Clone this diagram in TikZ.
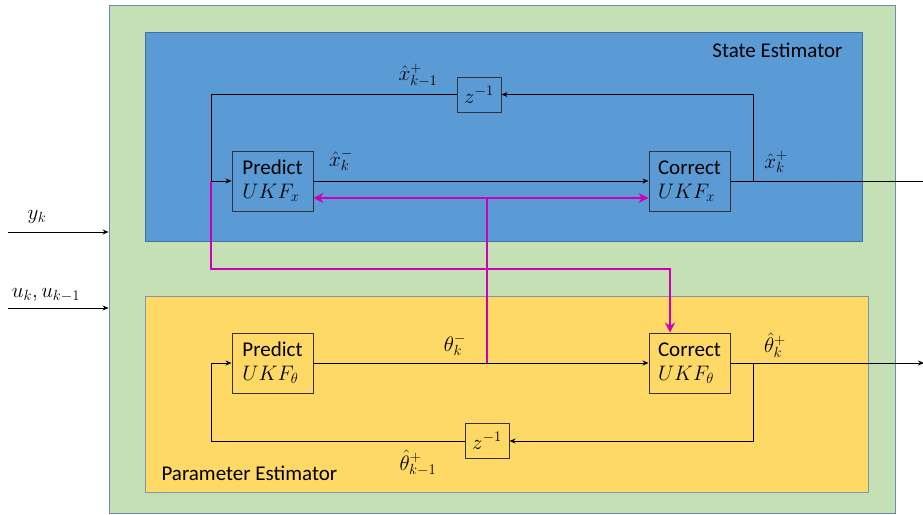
\documentclass[tikz,border=0pt]{standalone}
\usepackage{fix-cm}
\usepackage{fontspec}
\setmainfont{Carlito}
\usetikzlibrary{arrows.meta}

\definecolor{framegreen}{HTML}{C5E0B4}
\definecolor{frameline}{HTML}{6A8CAF}
\definecolor{stateblue}{HTML}{5B9BD5}
\definecolor{stateline}{HTML}{41719C}
\definecolor{paramyellow}{HTML}{FFD966}
\definecolor{paramline}{HTML}{7F97AC}
\definecolor{linkpink}{HTML}{CC00B8}

\tikzset{
  every node/.style={font=\fontsize{21}{24}\selectfont},
  panel/.style={inner sep=0pt, line width=0.9pt},
  block/.style={draw=black!80, line width=1pt, minimum width=81pt,
    minimum height=60pt, align=left, inner sep=1pt},
  delay/.style={draw=black!80, line width=1pt, minimum width=44pt,
    minimum height=35pt, inner sep=0pt},
  wire/.style={line width=0.8pt},
  sig/.style={line width=0.8pt, -{Stealth[length=6pt,width=5pt]}},
  link/.style={draw=linkpink, line width=2.6pt},
  tip/.style={-{Stealth[length=10pt,width=10pt]}},
}

\begin{document}
\begin{tikzpicture}[x=1pt,y=-1pt]
    \useasboundingbox (0,0) rectangle (923,514);
    % panels
    \node[panel, fill=framegreen, draw=frameline, minimum width=786pt,
      minimum height=508pt] (frame) at (502,259) {};
    \node[panel, fill=stateblue, draw=stateline, minimum width=717pt,
      minimum height=209pt] (statepanel) at (503.5,136.5) {};
    \node[panel, fill=paramyellow, draw=paramline, minimum width=723pt,
      minimum height=196pt] (parampanel) at (506.5,394) {};
    \node[anchor=east] (statetitle) at (846,50) {State Estimator};
    \node[anchor=west] (paramtitle) at (158,473) {Parameter Estimator};

    % inputs
    \coordinate (yin) at (8,232);
    \coordinate (uin) at (8,308);
    \draw[sig] (yin) -- (yin -| frame.west);
    \draw[sig] (uin) -- (uin -| frame.west);
    \node (ylbl) at (37,217) {$y_k$};
    \node (ulbl) at (46,295) {$u_k,u_{k-1}$};

    % state estimator
    \node[block] (predx) at (272.5,181) {Predict\\ $UKF_x$};
    \node[block] (corx) at (689.5,181) {Correct\\ $UKF_x$};
    \node[delay] (zx) at (479,94.5) {$z^{-1}$};
    \coordinate (tapx) at (753,181);
    \coordinate (backx) at (211,181);
    \coordinate (outx) at (931,181);
    \draw[sig] (predx.east) -- (corx.west);
    \draw[wire] (corx.east) -- (tapx);
    \draw[sig] (tapx) |- (zx.east);
    \draw[sig] (zx.west) -| (backx) -- (predx.west);
    \draw[sig] (tapx) -- (outx);
    \node (xminus) at (341,160) {$\hat{x}_k^-$};
    \node (xprev) at (418,75) {$\hat{x}_{k-1}^+$};
    \node (xplus) at (776,162) {$\hat{x}_k^+$};

    % parameter estimator
    \node[block] (predth) at (272.5,363) {Predict\\ $UKF_\theta$};
    \node[block] (corth) at (689.5,363) {Correct\\ $UKF_\theta$};
    \node[delay] (zth) at (487,441) {$z^{-1}$};
    \coordinate (tapth) at (753,363);
    \coordinate (backth) at (211,363);
    \coordinate (outth) at (924,363);
    \draw[sig] (predth.east) -- (corth.west);
    \draw[wire] (corth.east) -- (tapth);
    \draw[sig] (tapth) |- (zth.east);
    \draw[sig] (zth.west) -| (backth) -- (predth.west);
    \draw[sig] (tapth) -- (outth);
    \node (thminus) at (455,345) {$\theta_k^-$};
    \node (thprev) at (418,463) {$\hat{\theta}_{k-1}^+$};
    \node (thplus) at (775,345) {$\hat{\theta}_k^+$};

    % coupling
    \coordinate (mfork) at (487,198);
    \coordinate (mbend) at (211,269);
    \draw[link, {Stealth[length=10pt,width=10pt]}-{Stealth[length=10pt,width=10pt]}]
      ([yshift=-17pt]predx.east) -- ([yshift=-17pt]corx.west);
    \draw[link] (mfork) -- (mfork |- predth.east);
    \draw[link, tip] (backx) -- (mbend) -| ([xshift=-19.5pt]corth.north);
\end{tikzpicture}
\end{document}
